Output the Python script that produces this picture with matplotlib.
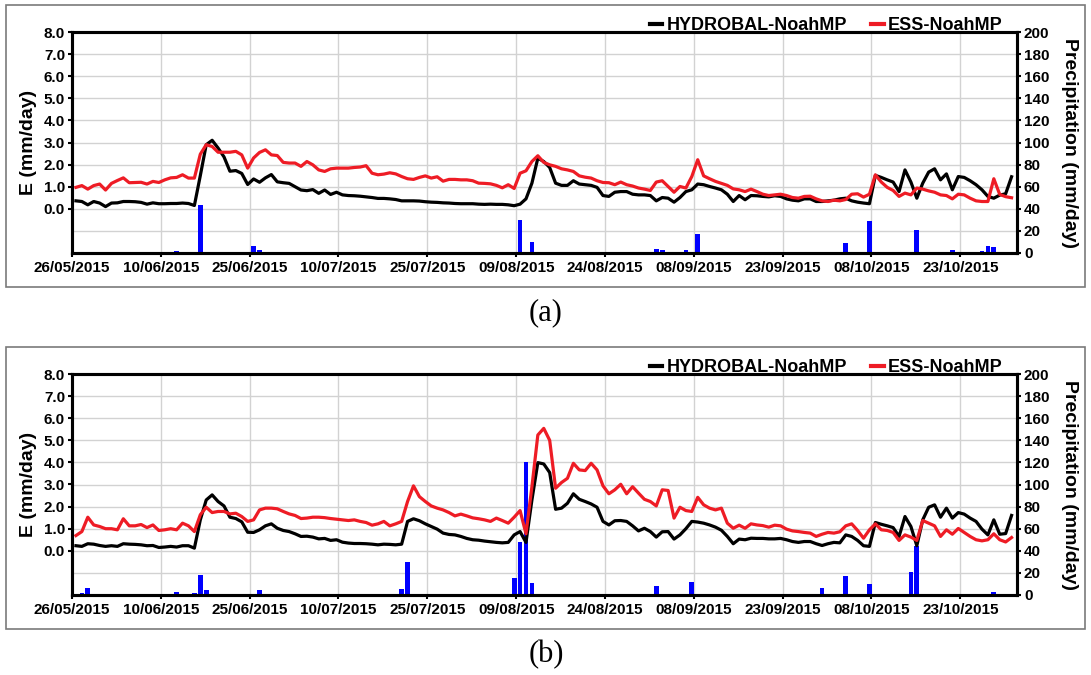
import numpy as np
import pandas as pd
import matplotlib
matplotlib.use('Agg')
import matplotlib.pyplot as plt
import matplotlib.dates as mdates
from matplotlib.patches import Rectangle

plt.rcParams['font.family'] = ['Liberation Sans', 'DejaVu Sans']
plt.rcParams['font.weight'] = 'bold'

# daily values, 159 days starting 26/05/2015
dates = pd.date_range('2015-05-26 16:00', periods=159, freq='D')
tick_dates = pd.date_range('2015-05-26', periods=11, freq='15D')

# panel (a)
hyd_a = [0.36, 0.33, 0.18, 0.33, 0.26, 0.10, 0.26, 0.27, 0.33, 0.33,
         0.32, 0.29, 0.21, 0.27, 0.23, 0.23, 0.24, 0.24, 0.26, 0.24,
         0.15, 1.50, 2.90, 3.10, 2.75, 2.35, 1.70, 1.73, 1.60, 1.10,
         1.35, 1.20, 1.40, 1.55, 1.22, 1.18, 1.15, 1.00, 0.85, 0.82,
         0.87, 0.70, 0.85, 0.65, 0.75, 0.63, 0.60, 0.59, 0.57, 0.54,
         0.51, 0.47, 0.47, 0.45, 0.42, 0.36, 0.36, 0.36, 0.35, 0.32,
         0.30, 0.29, 0.27, 0.26, 0.24, 0.23, 0.23, 0.23, 0.21, 0.20,
         0.21, 0.20, 0.20, 0.18, 0.14, 0.21, 0.45, 1.16, 2.29, 2.14,
         1.87, 1.16, 1.06, 1.06, 1.27, 1.12, 1.09, 1.06, 0.97, 0.60,
         0.56, 0.75, 0.78, 0.78, 0.66, 0.63, 0.63, 0.60, 0.36, 0.51,
         0.48, 0.30, 0.51, 0.78, 0.86, 1.12, 1.09, 1.01, 0.94, 0.86,
         0.66, 0.33, 0.60, 0.41, 0.60, 0.59, 0.56, 0.54, 0.59, 0.56,
         0.45, 0.39, 0.36, 0.45, 0.45, 0.33, 0.33, 0.36, 0.39, 0.45,
         0.48, 0.36, 0.30, 0.26, 0.23, 1.51, 1.42, 1.31, 1.21, 0.78,
         1.76, 1.21, 0.48, 1.16, 1.66, 1.81, 1.31, 1.58, 0.86, 1.46,
         1.42, 1.27, 1.09, 0.86, 0.56, 0.48, 0.62, 0.68, 1.45]
ess_a = [0.97, 1.05, 0.89, 1.05, 1.12, 0.85, 1.15, 1.28, 1.40, 1.18,
         1.19, 1.20, 1.12, 1.24, 1.19, 1.31, 1.40, 1.42, 1.54, 1.39,
         1.39, 2.47, 2.90, 2.82, 2.56, 2.56, 2.56, 2.60, 2.44, 1.84,
         2.30, 2.55, 2.67, 2.44, 2.41, 2.10, 2.07, 2.07, 1.92, 2.14,
         1.99, 1.76, 1.69, 1.81, 1.84, 1.84, 1.84, 1.87, 1.89, 1.95,
         1.61, 1.54, 1.57, 1.63, 1.58, 1.46, 1.36, 1.33, 1.42, 1.49,
         1.39, 1.45, 1.25, 1.33, 1.33, 1.31, 1.31, 1.27, 1.16, 1.15,
         1.13, 1.06, 0.95, 1.09, 0.92, 1.61, 1.72, 2.14, 2.40, 2.10,
         1.99, 1.92, 1.81, 1.76, 1.69, 1.49, 1.43, 1.39, 1.27, 1.19,
         1.18, 1.09, 1.21, 1.09, 1.03, 0.94, 0.89, 0.83, 1.21, 1.27,
         1.01, 0.75, 1.01, 0.94, 1.46, 2.22, 1.49, 1.36, 1.24, 1.15,
         1.06, 0.90, 0.86, 0.78, 0.89, 0.78, 0.66, 0.60, 0.63, 0.66,
         0.60, 0.51, 0.48, 0.56, 0.57, 0.45, 0.36, 0.33, 0.39, 0.36,
         0.42, 0.66, 0.68, 0.53, 0.66, 1.54, 1.21, 0.97, 0.83, 0.56,
         0.71, 0.63, 0.94, 0.89, 0.81, 0.75, 0.63, 0.60, 0.45, 0.66,
         0.63, 0.48, 0.36, 0.33, 0.33, 1.36, 0.65, 0.55, 0.50]
rain_a_day = [17, 21, 30, 31, 66, 75, 77, 98, 99, 100, 103, 104, 105,
              130, 134, 141, 142, 143, 148, 153, 154, 155]
rain_a_val = [1.5, 43, 6, 2.5, 0.5, 30, 10, 4, 2.5, 0.5, 3, 0.8, 17,
              9, 29, 0.5, 21, 1, 2.5, 1.5, 6.5, 5.5]

# panel (b)
hyd_b = [0.23, 0.20, 0.32, 0.30, 0.24, 0.20, 0.23, 0.20, 0.32, 0.30,
         0.29, 0.27, 0.23, 0.24, 0.15, 0.17, 0.20, 0.17, 0.23, 0.23,
         0.12, 1.40, 2.30, 2.53, 2.23, 2.03, 1.52, 1.46, 1.31, 0.84,
         0.83, 0.95, 1.13, 1.22, 1.02, 0.92, 0.87, 0.77, 0.65, 0.66,
         0.62, 0.54, 0.56, 0.47, 0.50, 0.39, 0.35, 0.33, 0.33, 0.32,
         0.30, 0.27, 0.30, 0.29, 0.27, 0.30, 1.33, 1.45, 1.36, 1.22,
         1.10, 0.98, 0.80, 0.74, 0.72, 0.65, 0.56, 0.50, 0.48, 0.44,
         0.41, 0.38, 0.36, 0.38, 0.72, 0.87, 0.38, 2.30, 3.99, 3.93,
         3.54, 1.88, 1.93, 2.15, 2.58, 2.33, 2.23, 2.12, 1.97, 1.33,
         1.17, 1.36, 1.37, 1.33, 1.13, 0.90, 1.02, 0.87, 0.62, 0.86,
         0.87, 0.53, 0.72, 1.00, 1.33, 1.30, 1.25, 1.17, 1.07, 0.93,
         0.65, 0.32, 0.53, 0.50, 0.57, 0.56, 0.56, 0.54, 0.54, 0.56,
         0.50, 0.42, 0.38, 0.42, 0.42, 0.32, 0.24, 0.32, 0.38, 0.36,
         0.72, 0.65, 0.47, 0.23, 0.20, 1.28, 1.20, 1.13, 1.05, 0.65,
         1.55, 1.10, 0.23, 1.40, 1.97, 2.08, 1.52, 1.93, 1.48, 1.73,
         1.66, 1.48, 1.33, 0.98, 0.72, 1.40, 0.75, 0.78, 1.60]
ess_b = [0.69, 0.87, 1.52, 1.17, 1.10, 1.00, 1.00, 0.95, 1.45, 1.13,
         1.13, 1.19, 1.05, 1.17, 0.92, 0.95, 1.00, 0.95, 1.25, 1.13,
         0.87, 1.63, 1.97, 1.73, 1.78, 1.78, 1.67, 1.70, 1.55, 1.33,
         1.40, 1.85, 1.93, 1.93, 1.90, 1.78, 1.67, 1.60, 1.46, 1.48,
         1.52, 1.52, 1.50, 1.46, 1.43, 1.40, 1.37, 1.40, 1.33, 1.28,
         1.16, 1.22, 1.33, 1.13, 1.22, 1.33, 2.23, 2.94, 2.45, 2.23,
         2.03, 1.93, 1.85, 1.73, 1.58, 1.66, 1.58, 1.49, 1.45, 1.40,
         1.33, 1.48, 1.37, 1.25, 1.52, 1.82, 0.77, 2.90, 5.24, 5.54,
         5.00, 2.83, 3.09, 3.28, 3.96, 3.66, 3.63, 3.96, 3.66, 2.94,
         2.58, 2.76, 3.01, 2.58, 2.90, 2.61, 2.33, 2.23, 2.03, 2.76,
         2.73, 1.48, 1.97, 1.82, 1.78, 2.42, 2.08, 1.93, 1.85, 1.93,
         1.25, 1.02, 1.16, 1.02, 1.22, 1.17, 1.14, 1.07, 1.16, 1.13,
         0.98, 0.90, 0.87, 0.83, 0.80, 0.65, 0.75, 0.83, 0.80, 0.86,
         1.13, 1.22, 0.92, 0.57, 0.95, 1.22, 0.95, 0.92, 0.83, 0.47,
         0.72, 0.62, 0.47, 1.37, 1.25, 1.13, 0.65, 0.95, 0.75, 1.01,
         0.83, 0.65, 0.50, 0.45, 0.50, 0.77, 0.50, 0.40, 0.60]
rain_b_day = [1, 2, 5, 8, 17, 20, 21, 22, 31, 55, 56, 71, 74, 75, 76, 77,
              81, 98, 104, 126, 130, 131, 134, 138, 139, 141, 142, 143,
              154, 155]
rain_b_val = [2, 6.5, 0.3, 0.3, 3, 1.8, 18, 4.5, 4.8, 5.7, 30, 0.3, 15,
              48, 120, 10.5, 0.3, 8, 12, 6, 17.5, 0.3, 10, 0.3, 0.3, 21,
              44, 0.3, 1.2, 3]

W, H = 1091, 675
fig = plt.figure(figsize=(W / 100, H / 100), dpi=100)


def panel(top_px, hyd, ess, rain_day, rain_val):
    left, right, bottom_px = 72, 1017, top_px + 221
    rect = [left / W, 1 - bottom_px / H, (right - left) / W, 221 / H]
    ax2 = fig.add_axes(rect)
    ax = ax2.twinx()
    # E axis on the left, precipitation on the right, lines above bars
    ax.yaxis.tick_left()
    ax.yaxis.set_label_position('left')
    ax2.yaxis.tick_right()
    ax2.yaxis.set_label_position('right')

    ax2.bar(dates[rain_day], rain_val, width=0.8, color='#0000ff', zorder=2)
    ax2.set_ylim(0, 200)
    ax2.set_yticks(np.arange(0, 201, 20))
    ax2.grid(True, color='#d2d2d2', lw=1.0, zorder=0)
    ax2.set_axisbelow(True)

    ax.plot(dates, hyd, color='black', lw=2.3, label='HYDROBAL-NoahMP')
    ax.plot(dates, ess, color='#ee1c25', lw=2.3, label='ESS-NoahMP')
    ax.set_ylim(-2, 8)
    ax.set_yticks(np.arange(0, 9, 1))
    ax.yaxis.set_major_formatter(plt.FormatStrFormatter('%.1f'))

    ax2.set_xlim(pd.Timestamp('2015-05-26'), pd.Timestamp('2015-11-01 14:00'))
    ax2.set_xticks(tick_dates)
    ax2.xaxis.set_major_formatter(mdates.DateFormatter('%d/%m/%Y'))

    for a in (ax, ax2):
        for s in a.spines.values():
            s.set_linewidth(2.2)
            s.set_color('black')
        a.tick_params(labelsize=11, length=3, width=1.5, pad=2)
    ax2.tick_params(axis='x', pad=3)

    ax.set_ylabel('E (mm/day)', fontsize=14, fontweight='bold', labelpad=5)
    ax2.set_ylabel('Precipitation (mm/day)', fontsize=14, fontweight='bold',
                   rotation=270, va='bottom', labelpad=8)
    ax.legend(loc='lower right', bbox_to_anchor=(0.985, 0.99), ncol=2,
              frameon=False, handlelength=0.7, handletextpad=0.25,
              columnspacing=1.3, borderaxespad=0, borderpad=0,
              prop={'weight': 'bold', 'size': 13})
    for ln in ax.get_legend().get_lines():
        ln.set_linewidth(3)


panel(32, hyd_a, ess_a, rain_a_day, rain_a_val)
panel(374, hyd_b, ess_b, rain_b_day, rain_b_val)

# panel frames and captions
for y0, y1, lab, ly in [(5, 287, '(a)', 313), (347, 629, '(b)', 655)]:
    fig.add_artist(Rectangle((6 / W, 1 - y1 / H), (1085 - 6) / W, (y1 - y0) / H,
                             transform=fig.transFigure, fill=False,
                             ec='#7a7a7a', lw=1.2))
    fig.text(546 / W, 1 - ly / H, lab, ha='center', va='center',
             family='Liberation Serif', fontweight='normal', fontsize=22)

fig.savefig('out.png', dpi=100)
